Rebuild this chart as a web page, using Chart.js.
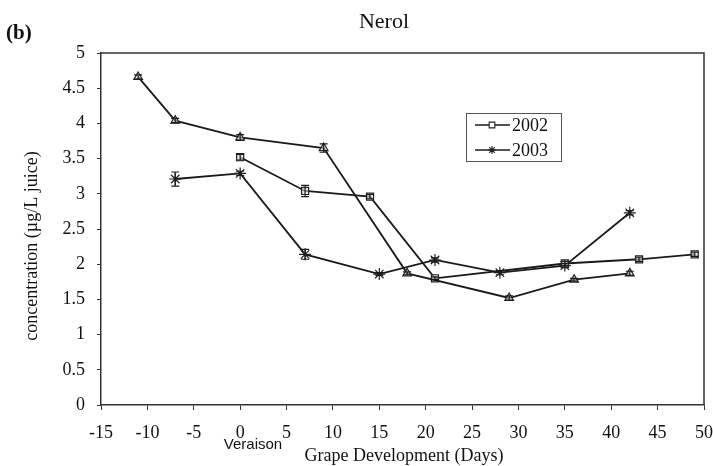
<!DOCTYPE html>
<html>
<head>
<meta charset="utf-8">
<script src="https://cdn.jsdelivr.net/npm/chart.js@4/dist/chart.umd.min.js"></script>
<style>
  html, body { margin: 0; padding: 0; background: #fff; }
  #wrap { width: 713px; height: 466px; }
</style>
</head>
<body>
<div id="wrap"><canvas id="c" width="713" height="466"></canvas></div>
<script>
// Nerol concentration during grape development (days relative to veraison)
const triDays   = [-11, -7, 0, 9, 18, 29, 36, 42];
const triValues = [4.66, 4.04, 3.80, 3.65, 1.87, 1.52, 1.78, 1.87];
const triErr    = [0.03, 0.03, 0.04, 0.06, 0.02, 0.03, 0.02, 0.03];

const days2002   = [0, 7, 14, 21, 35, 43, 49];
const values2002 = [3.52, 3.04, 2.96, 1.80, 2.01, 2.07, 2.14];
const err2002    = [0.04, 0.08, 0.03, 0.02, 0.03, 0.03, 0.03];

const days2003   = [-7, 0, 7, 15, 21, 28, 35, 42];
const values2003 = [3.21, 3.29, 2.14, 1.86, 2.06, 1.88, 1.98, 2.73];
const err2003    = [0.10, 0.03, 0.07, 0.02, 0.03, 0.03, 0.03, 0.03];

const xTicks = [-15, -10, -5, 0, 5, 10, 15, 20, 25, 30, 35, 40, 45, 50];
const yTicks = [0, 0.5, 1, 1.5, 2, 2.5, 3, 3.5, 4, 4.5, 5];

const SERIF = '"Liberation Serif", "Times New Roman", serif';
const INK = '#1a1a1a';

function toPoints(xs, ys) {
  return xs.map((x, i) => ({ x: x, y: ys[i] }));
}

function seriesStyle(style) {
  return {
    showLine: true,
    borderColor: INK,
    borderWidth: 1.8,
    pointStyle: style,
    pointRadius: 5,
    pointHoverRadius: 5,
    pointBorderWidth: 1.2,
    pointBorderColor: '#222',
    pointBackgroundColor: 'rgba(215,215,215,0.6)',
    tension: 0
  };
}

const datasets = [
  Object.assign({ label: '', data: toPoints(triDays, triValues), err: triErr, inLegend: false }, seriesStyle('triangle')),
  Object.assign({ label: '2002', data: toPoints(days2002, values2002), err: err2002, inLegend: true }, seriesStyle('rect')),
  Object.assign({ label: '2003', data: toPoints(days2003, values2003), err: err2003, inLegend: true }, seriesStyle('star'), { pointRadius: 6 })
];

// error bars, frame, legend box and texts
const decorations = {
  id: 'decorations',
  afterDatasetsDraw(chart) {
    const ctx = chart.ctx;
    const xs = chart.scales.x, ys = chart.scales.y;
    ctx.save();
    ctx.strokeStyle = INK;
    ctx.lineWidth = 1.2;
    chart.data.datasets.forEach(ds => {
      ds.data.forEach((p, i) => {
        const e = ds.err[i];
        const px = xs.getPixelForValue(p.x);
        const top = ys.getPixelForValue(p.y + e);
        const bot = ys.getPixelForValue(p.y - e);
        ctx.beginPath();
        ctx.moveTo(px, top); ctx.lineTo(px, bot);
        ctx.moveTo(px - 4, top); ctx.lineTo(px + 4, top);
        ctx.moveTo(px - 4, bot); ctx.lineTo(px + 4, bot);
        ctx.stroke();
      });
    });
    ctx.restore();
  },
  afterDraw(chart) {
    const ctx = chart.ctx;
    const a = chart.chartArea;
    ctx.save();
    // plot frame (top and right edges)
    ctx.strokeStyle = '#333';
    ctx.lineWidth = 1.5;
    ctx.beginPath();
    ctx.moveTo(a.left, a.top); ctx.lineTo(a.right, a.top); ctx.lineTo(a.right, a.bottom);
    ctx.stroke();

    // legend box
    const lx = 466, ly = 113, lw = 95, lh = 48;
    ctx.fillStyle = '#fff';
    ctx.fillRect(lx, ly, lw, lh);
    ctx.strokeStyle = '#555';
    ctx.lineWidth = 1;
    ctx.strokeRect(lx + 0.5, ly + 0.5, lw, lh);
    const items = chart.data.datasets.filter(d => d.inLegend);
    items.forEach((ds, k) => {
      const y = ly + 12 + k * 25;
      ctx.strokeStyle = INK;
      ctx.lineWidth = 1.6;
      ctx.beginPath();
      ctx.moveTo(lx + 9, y); ctx.lineTo(lx + 44, y);
      ctx.stroke();
      const opts = { pointStyle: ds.pointStyle, radius: 4, borderWidth: 1.1 };
      ctx.fillStyle = '#fff';
      ctx.strokeStyle = '#222';
      ctx.lineWidth = 1.1;
      if (Chart.helpers && Chart.helpers.drawPoint) {
        Chart.helpers.drawPoint(ctx, opts, lx + 26, y);
      }
      ctx.fillStyle = '#111';
      ctx.font = '18px ' + SERIF;
      ctx.textAlign = 'left';
      ctx.textBaseline = 'middle';
      ctx.fillText(ds.label, lx + 46, y + 1);
    });

    // titles and notes
    ctx.fillStyle = '#111';
    ctx.textBaseline = 'middle';
    ctx.textAlign = 'center';
    ctx.font = '22px ' + SERIF;
    ctx.fillText('Nerol', 384, 22);
    ctx.textAlign = 'left';
    ctx.font = 'bold 21px ' + SERIF;
    ctx.fillText('(b)', 6, 34);
    ctx.textAlign = 'center';
    ctx.font = '18px ' + SERIF;
    ctx.fillText('Grape Development (Days)', 404, 456);
    ctx.font = '15px "Liberation Sans", Arial, sans-serif';
    ctx.fillText('Veraison', 253, 445);
    ctx.save();
    ctx.translate(32, 246);
    ctx.rotate(-Math.PI / 2);
    ctx.font = '18px ' + SERIF;
    ctx.fillText('concentration (\u00b5g/L juice)', 0, 0);
    ctx.restore();
    ctx.restore();
  }
};

new Chart(document.getElementById('c'), {
  type: 'scatter',
  data: { datasets: datasets },
  options: {
    responsive: false,
    animation: false,
    layout: { autoPadding: false, padding: { top: 53, right: 9, bottom: 0, left: 0 } },
    plugins: {
      legend: { display: false },
      tooltip: { enabled: false },
      title: { display: false }
    },
    scales: {
      x: {
        type: 'linear',
        min: xTicks[0],
        max: xTicks[xTicks.length - 1],
        afterBuildTicks(scale) { scale.ticks = xTicks.map(v => ({ value: v })); },
        afterFit(scale) { scale.height = 61; scale.paddingLeft = 0; scale.paddingRight = 0; },
        grid: { drawOnChartArea: false, drawTicks: true, tickLength: 5, color: '#333', lineWidth: 1 },
        border: { display: true, color: '#333', width: 1.5 },
        ticks: { color: '#111', font: { family: SERIF, size: 18 }, padding: 12, maxRotation: 0, autoSkip: false,
                 callback: v => String(v) }
      },
      y: {
        type: 'linear',
        min: yTicks[0],
        max: yTicks[yTicks.length - 1],
        afterBuildTicks(scale) { scale.ticks = yTicks.map(v => ({ value: v })); },
        afterFit(scale) { scale.width = 101; scale.paddingTop = 0; scale.paddingBottom = 0; },
        grid: { drawOnChartArea: false, drawTicks: true, tickLength: 4, color: '#333', lineWidth: 1 },
        border: { display: true, color: '#333', width: 1.5 },
        ticks: { color: '#111', font: { family: SERIF, size: 18 }, padding: 12,
                 callback: v => String(v) }
      }
    }
  },
  plugins: [decorations]
});
</script>
</body>
</html>
